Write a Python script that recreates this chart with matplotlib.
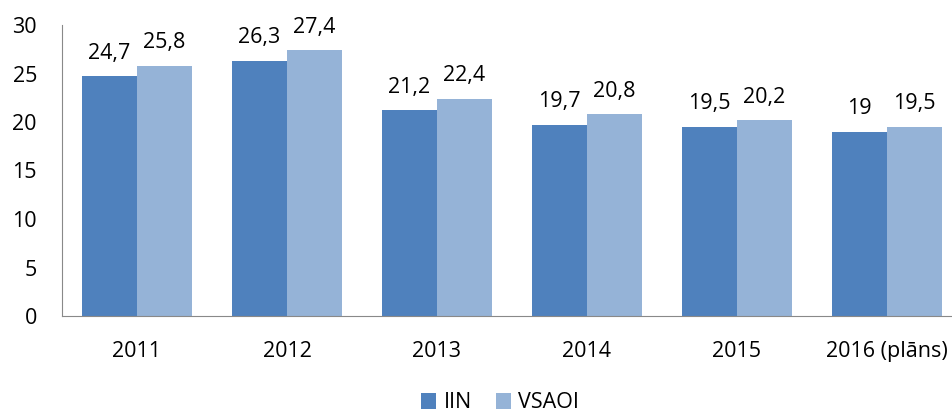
import matplotlib
matplotlib.use('Agg')
import matplotlib.pyplot as plt
import numpy as np

years = ['2011', '2012', '2013', '2014', '2015', '2016 (plāns)']
iin = [24.7, 26.3, 21.2, 19.7, 19.5, 19]
vsaoi = [25.8, 27.4, 22.4, 20.8, 20.2, 19.5]
iin_labels = ['24,7', '26,3', '21,2', '19,7', '19,5', '19']
vsaoi_labels = ['25,8', '27,4', '22,4', '20,8', '20,2', '19,5']

plt.rcParams['font.family'] = ['Open Sans', 'DejaVu Sans']

fig = plt.figure(figsize=(9.53, 4.16), dpi=100)
ax = fig.add_axes([62 / 953, 1 - 316 / 416, 900 / 953, 291 / 416])

x = np.arange(len(years))
w = 0.367
b1 = ax.bar(x - w / 2, iin, w, color='#4F81BD', label='IIN')
b2 = ax.bar(x + w / 2, vsaoi, w, color='#95B3D7', label='VSAOI')

for bars, labs in [(b1, iin_labels), (b2, vsaoi_labels)]:
    for r, t in zip(bars, labs):
        ax.annotate(t, (r.get_x() + r.get_width() / 2, r.get_height()),
                    xytext=(0, 9), textcoords='offset points',
                    ha='center', va='bottom', fontsize=15.5)

ax.set_xlim(-0.5, len(years) - 0.5)
ax.set_ylim(0, 30)
ax.set_yticks(range(0, 31, 5))
ax.set_xticks(x)
ax.set_xticklabels(years)
ax.tick_params(axis='both', length=0, labelsize=15.5)
ax.tick_params(axis='y', pad=18)
ax.tick_params(axis='x', pad=18)
for s in ['top', 'right']:
    ax.spines[s].set_visible(False)
for s in ['left', 'bottom']:
    ax.spines[s].set_color('#898989')

fig.legend(handles=[b1, b2], loc='center', bbox_to_anchor=(500 / 953, 1 - 403 / 416),
           ncol=2, frameon=False, fontsize=15.5, handlelength=0.7, handleheight=0.7,
           handletextpad=0.35, columnspacing=1.1)

fig.savefig('out.png', dpi=100)
